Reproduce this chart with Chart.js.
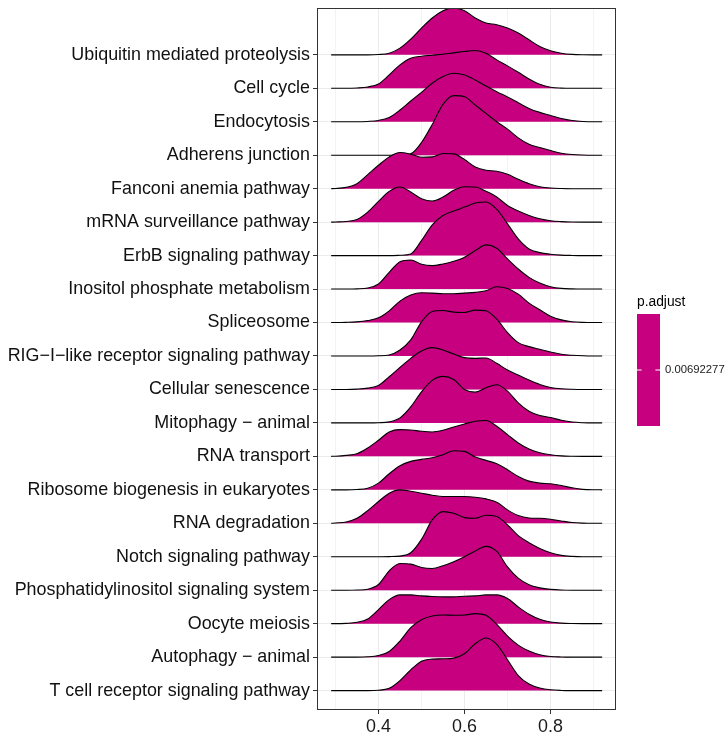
<!DOCTYPE html>
<html>
<head>
<meta charset="utf-8">
<script src="https://cdn.jsdelivr.net/npm/chart.js@4.4.1/dist/chart.umd.min.js"></script>
<style>
  html, body { margin: 0; padding: 0; background: #ffffff; }
  canvas { display: block; }
</style>
</head>
<body>
<canvas id="ridges" width="727" height="737"></canvas>
<script>
// Pathways, listed from the top ridge to the bottom ridge
const pathways = [
  "Ubiquitin mediated proteolysis",
  "Cell cycle",
  "Endocytosis",
  "Adherens junction",
  "Fanconi anemia pathway",
  "mRNA surveillance pathway",
  "ErbB signaling pathway",
  "Inositol phosphate metabolism",
  "Spliceosome",
  "RIG\u2212I\u2212like receptor signaling pathway",
  "Cellular senescence",
  "Mitophagy \u2212 animal",
  "RNA transport",
  "Ribosome biogenesis in eukaryotes",
  "RNA degradation",
  "Notch signaling pathway",
  "Phosphatidylinositol signaling system",
  "Oocyte meiosis",
  "Autophagy \u2212 animal",
  "T cell receptor signaling pathway"
];

// Positions along the x axis where each density is sampled
const xs = [0.29, 0.300, 0.325, 0.350, 0.375, 0.400, 0.425, 0.450, 0.475, 0.500, 0.525, 0.550, 0.575,
            0.600, 0.625, 0.650, 0.675, 0.700, 0.725, 0.750, 0.775, 0.800, 0.825, 0.850, 0.875, 0.900, 0.92];

// Ridge heights (in row units) at each x position
const ubiquitin    = [0,0,0,0,0,0.01,0.05,0.20,0.47,0.80,1.10,1.32,1.40,1.32,1.10,0.95,0.90,0.80,0.65,0.45,0.25,0.12,0.05,0.015,0.003,0,0];
const cellCycle    = [0,0,0,0.01,0.04,0.13,0.40,0.70,0.90,0.96,0.99,1.02,1.06,1.10,1.13,1.05,0.85,0.67,0.48,0.28,0.12,0.03,0.005,0,0,0,0];
const endocytosis  = [0,0,0,0,0.01,0.04,0.13,0.35,0.62,0.88,1.15,1.35,1.45,1.40,1.25,1.07,0.90,0.74,0.57,0.40,0.28,0.19,0.10,0.04,0.01,0,0];
const adherens     = [0,0,0,0,0,0,0,0,0.04,0.38,0.92,1.52,1.78,1.75,1.50,1.25,1.00,0.78,0.52,0.33,0.23,0.14,0.06,0.02,0.005,0,0];
const fanconi      = [0,0.005,0.04,0.15,0.42,0.70,0.95,1.08,1.03,0.94,0.95,1.05,1.04,0.87,0.65,0.55,0.52,0.43,0.28,0.15,0.06,0.02,0.005,0,0,0,0];
const mrnaSurv     = [0,0.005,0.02,0.08,0.30,0.62,0.92,1.05,0.90,0.70,0.63,0.75,0.95,1.06,1.05,0.92,0.75,0.50,0.33,0.20,0.10,0.04,0.015,0.003,0,0,0];
const erbb         = [0,0,0,0,0,0,0,0.01,0.05,0.45,0.92,1.20,1.33,1.45,1.57,1.60,1.38,0.95,0.50,0.20,0.09,0.04,0.015,0.005,0,0,0];
const inositol     = [0,0,0,0.005,0.03,0.15,0.50,0.82,0.87,0.74,0.70,0.75,0.83,0.95,1.15,1.32,1.22,0.90,0.60,0.35,0.18,0.07,0.02,0.005,0,0,0];
const spliceosome  = [0,0,0.005,0.02,0.06,0.14,0.35,0.64,0.82,0.89,0.88,0.86,0.86,0.88,0.90,0.95,1.07,1.02,0.85,0.58,0.38,0.19,0.08,0.025,0.005,0,0];
const rigI         = [0,0,0,0,0,0.005,0.03,0.18,0.48,1.02,1.33,1.36,1.31,1.30,1.37,1.35,1.10,0.70,0.40,0.28,0.20,0.12,0.05,0.02,0.005,0,0];
const senescence   = [0,0,0,0.01,0.04,0.12,0.38,0.66,0.93,1.15,1.25,1.18,1.06,0.95,0.93,0.94,0.78,0.58,0.43,0.28,0.15,0.06,0.02,0.005,0,0,0];
const mitophagy    = [0,0,0,0,0,0.005,0.03,0.15,0.48,0.93,1.27,1.39,1.30,1.00,0.92,1.05,1.14,0.95,0.60,0.35,0.22,0.16,0.08,0.025,0.005,0,0];
const rnaTransport = [0,0.005,0.03,0.08,0.25,0.48,0.73,0.80,0.79,0.75,0.73,0.78,0.88,0.97,1.05,1.07,0.90,0.65,0.40,0.22,0.11,0.05,0.015,0.003,0,0,0];
const ribosome     = [0,0,0,0.01,0.05,0.20,0.48,0.72,0.85,0.91,0.96,1.05,1.17,1.15,0.98,0.88,0.78,0.60,0.40,0.26,0.20,0.18,0.13,0.06,0.015,0.002,0];
const rnaDegr      = [0,0.01,0.04,0.15,0.38,0.65,0.90,1.00,0.96,0.90,0.84,0.80,0.80,0.80,0.78,0.73,0.63,0.40,0.23,0.16,0.15,0.12,0.07,0.025,0.005,0,0];
const notch        = [0,0,0,0,0,0,0.005,0.02,0.12,0.52,1.10,1.35,1.30,1.17,1.15,1.24,1.20,0.95,0.63,0.42,0.25,0.12,0.04,0.01,0,0,0];
const phosphatidyl = [0,0,0,0.005,0.03,0.17,0.58,0.80,0.78,0.68,0.65,0.73,0.85,1.00,1.17,1.31,1.16,0.70,0.36,0.16,0.07,0.025,0.005,0,0,0,0];
const oocyte       = [0,0,0.01,0.04,0.14,0.42,0.72,0.86,0.86,0.83,0.81,0.80,0.80,0.82,0.83,0.86,0.86,0.75,0.50,0.28,0.13,0.05,0.015,0.003,0,0,0];
const autophagy    = [0,0,0,0,0.01,0.05,0.17,0.48,0.88,1.12,1.23,1.26,1.25,1.26,1.30,1.25,0.98,0.63,0.36,0.18,0.07,0.02,0.005,0,0,0,0];
const tCell        = [0,0,0,0,0,0.01,0.07,0.30,0.62,0.88,0.94,0.95,0.97,1.10,1.40,1.57,1.38,0.92,0.45,0.20,0.08,0.025,0.005,0,0,0,0];

const densities = [ubiquitin, cellCycle, endocytosis, adherens, fanconi, mrnaSurv, erbb, inositol,
  spliceosome, rigI, senescence, mitophagy, rnaTransport, ribosome, rnaDegr, notch, phosphatidyl,
  oocyte, autophagy, tCell];

// x-axis tick positions (grid) and the ones that carry a label
const xTickValues = [0.3, 0.4, 0.5, 0.6, 0.7, 0.8, 0.9];
const xTickLabels = ["0.4", "0.6", "0.8"];

// Colour bar legend
const legendTitle = "p.adjust";
const legendValue = "0.00692277";

const FILL = "#C7007F";
const FONT = "'Liberation Sans', Arial, Helvetica, sans-serif";
const nRows = pathways.length;

// Each ridge sits on baseline (nRows - i); lower ridges are drawn in front
const datasets = pathways.map((name, i) => {
  const base = nRows - i;
  return {
    label: name,
    data: xs.map((x, k) => ({ x: x, y: base + densities[i][k] })),
    fill: { value: base },
    backgroundColor: FILL,
    borderColor: "#000000",
    borderWidth: 1.1,
    pointRadius: 0,
    cubicInterpolationMode: "monotone",
    order: nRows - 1 - i
  };
});

const fmtTick = v => (Math.round(v * 10) / 10).toFixed(1);

const framePlugin = {
  id: "frameAndLegend",
  afterDatasetsDraw(chart) {
    const { ctx, chartArea: a } = chart;
    ctx.save();
    ctx.strokeStyle = "#333333";
    ctx.lineWidth = 1;
    ctx.strokeRect(Math.round(a.left) + 0.5, Math.round(a.top) + 0.5,
                   Math.round(a.right - a.left) - 1, Math.round(a.bottom - a.top) - 1);
    ctx.restore();
  },
  afterDraw(chart) {
    const { ctx } = chart;
    const bx = 637, by = 314, bw = 23, bh = 112;
    ctx.save();
    ctx.fillStyle = "#000000";
    ctx.font = "13.8px " + FONT;
    ctx.textBaseline = "alphabetic";
    ctx.textAlign = "left";
    ctx.fillText(legendTitle, bx, 306);
    ctx.fillStyle = FILL;
    ctx.fillRect(bx, by, bw, bh);
    const ty = by + bh / 2 - 0.5;
    ctx.strokeStyle = "#ffffff";
    ctx.lineWidth = 1;
    ctx.beginPath();
    ctx.moveTo(bx, ty + 0.5); ctx.lineTo(bx + 4.6, ty + 0.5);
    ctx.moveTo(bx + bw - 4.6, ty + 0.5); ctx.lineTo(bx + bw, ty + 0.5);
    ctx.stroke();
    ctx.fillStyle = "#1a1a1a";
    ctx.font = "11.3px " + FONT;
    ctx.textBaseline = "middle";
    ctx.fillText(legendValue, bx + bw + 5, ty + 0.5);
    ctx.restore();
  }
};

new Chart(document.getElementById("ridges"), {
  type: "line",
  data: { datasets: datasets },
  options: {
    responsive: false,
    animation: false,
    events: [],
    layout: { padding: { left: 0, right: 111, top: 8, bottom: 0 } },
    plugins: {
      legend: { display: false },
      tooltip: { enabled: false },
      filler: { propagate: false }
    },
    scales: {
      x: {
        type: "linear",
        min: 0.2571,
        max: 0.9522,
        afterBuildTicks: s => { s.ticks = xTickValues.map(v => ({ value: v })); },
        afterFit: s => { s.height = 27; s.paddingLeft = 0; s.paddingRight = 0; },
        border: { display: false },
        grid: {
          drawOnChartArea: true,
          color: c => (xTickLabels.includes(fmtTick(c.tick.value)) ? "#EBEBEB" : "#F3F3F3"),
          lineWidth: 1,
          tickLength: 4,
          tickColor: c => (xTickLabels.includes(fmtTick(c.tick.value)) ? "#333333" : "rgba(0,0,0,0)"),
          tickWidth: 1
        },
        ticks: {
          autoSkip: false,
          maxRotation: 0,
          padding: 2,
          color: "#1a1a1a",
          font: { family: FONT, size: 17.9 },
          callback: v => { const t = fmtTick(v); return xTickLabels.includes(t) ? t : ""; }
        }
      },
      y: {
        type: "linear",
        min: 0.42,
        max: 21.4,
        afterBuildTicks: s => { s.ticks = pathways.map((_, i) => ({ value: nRows - i })); },
        afterFit: s => { s.width = 317; s.paddingTop = 0; s.paddingBottom = 0; },
        border: { display: false },
        grid: {
          color: "#EBEBEB",
          lineWidth: 1,
          tickLength: 4,
          tickColor: "#333333",
          tickWidth: 1
        },
        ticks: {
          autoSkip: false,
          padding: 3,
          color: "#111111",
          font: { family: FONT, size: 17.9 },
          callback: v => pathways[nRows - Math.round(v)]
        }
      }
    }
  },
  plugins: [framePlugin]
});
</script>
</body>
</html>
